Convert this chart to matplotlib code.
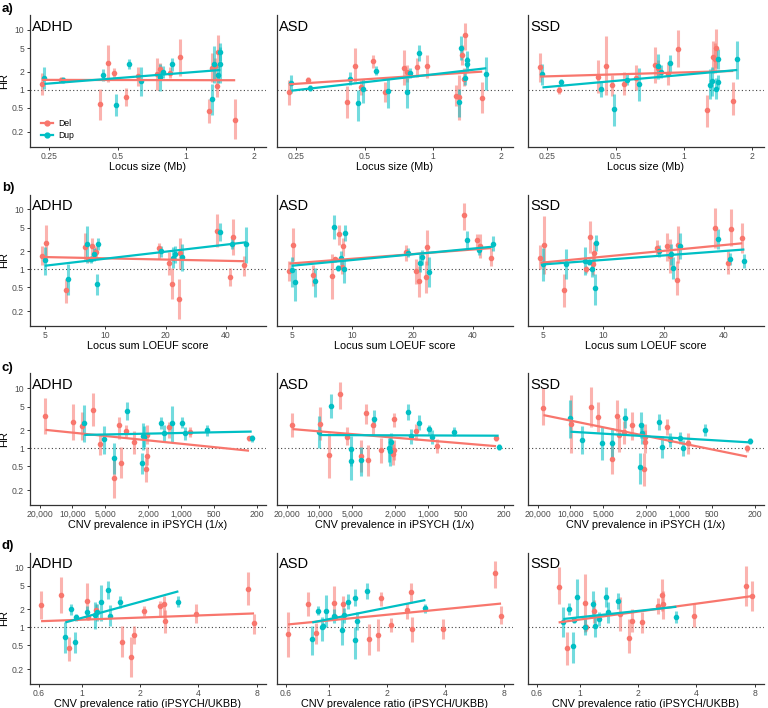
import numpy as np
import matplotlib
matplotlib.use("Agg")
import matplotlib.pyplot as plt
from matplotlib.lines import Line2D

plt.rcParams['font.family'] = ['Liberation Sans', 'DejaVu Sans']

nan = np.nan
disorders = ["ADHD", "ASD", "SSD"]
row_letters = ["a)", "b)", "c)", "d)"]
x_titles = ["Locus size (Mb)", "Locus sum LOEUF score",
            "CNV prevalence in iPSYCH (1/x)", "CNV prevalence ratio (iPSYCH/UKBB)"]
x_ticks = [[0.25, 0.5, 1, 2], [5, 10, 20, 40],
           [20000, 10000, 5000, 2000, 1000, 500, 200], [0.6, 1, 2, 4, 8]]
x_ticklabels = [["0.25", "0.5", "1", "2"], ["5", "10", "20", "40"],
                ["20,000", "10,000", "5,000", "2,000", "1,000", "500", "200"],
                ["0.6", "1", "2", "4", "8"]]
x_limits = [(0.2045, 2.244), (4.2, 63), (24800, 168), (0.536, 8.88)]
y_ticks = [0.2, 0.5, 1, 2, 5, 10]
y_ticklabels = ["0.2", "0.5", "1", "2", "5", "10"]

# ---- Deletions (one entry per CNV locus) ----
del_size = [0.232, 0.282, 0.42, 0.455, 0.48, 0.546, 0.615, 0.749, 0.77, 0.847, 0.94, 1.26, 1.30, 1.35, 1.37, 1.38, 1.65]
del_loeuf = [20.9, 8.2, 21.6, 5.1, 8.9, 41.9, 4.87, 23.7, 18.6, 9.0, 43.3, 6.4, 7.9, 8.6, 49.4, 36.2, 23.3]
del_prev = [2720, 238, 3540, 9850, 830, 2070, 2050, nan, 1283, 3230, 17700, 2100, 8180, 3750, 5520, 6500, 4180]
del_ratio = [2.70, 1.08, 1.615, 1.062, 2.10, 1.86, 3.9, nan, 2.53, 1.184, 0.776, 0.859, 0.615, 2.65, 7.75, 7.24, 1.785]

del_hr_adhd = [1.26, 1.47, 0.58, 2.78, 1.9, 0.75, 1.69, 1.85, 2.24, 1.95, 3.5, 0.45, 2.36, 2.5, 1.17, 4.3, 0.32]
del_lo_adhd = [0.82, 1.33, 0.32, 1.38, 1.56, 0.53, 1.17, 1.0, 1.47, 1.56, 1.71, 0.28, 1.38, 1.46, 0.77, 2.35, 0.15]
del_hi_adhd = [1.95, 1.63, 1.05, 5.6, 2.3, 1.07, 2.45, 3.4, 2.8, 2.45, 7.0, 0.70, 4.1, 3.4, 1.7, 8.3, 0.70]

del_hr_asd = [0.94, 1.47, 0.64, 2.54, 1.1, 3.08, 0.94, 2.36, 1.97, 2.45, 2.5, 0.8, 0.77, 3.83, 1.53, 8.1, 0.745]
del_lo_asd = [0.56, 1.33, 0.34, 1.38, 0.83, 2.3, 0.64, 1.2, 1.38, 1.67, 1.56, 0.53, 0.32, 2.6, 1.14, 4.6, 0.41]
del_hi_asd = [1.47, 1.63, 1.14, 4.95, 1.45, 3.83, 1.38, 4.6, 2.6, 3.4, 3.83, 1.2, 1.8, 5.6, 2.3, 13.0, 1.38]

del_hr_ssd = [2.45, 1.0, 1.67, 2.54, 1.21, 1.26, 1.56, 2.6, 2.3, 1.85, 4.8, 0.46, nan, 3.5, 3.3, 4.95, 0.66]
del_lo_ssd = [1.38, 0.86, 0.88, 0.83, 0.8, 0.83, 1.0, 1.29, 1.7, 1.2, 2.45, 0.24, nan, 1.9, 1.9, 2.3, 0.38]
del_hi_ssd = [4.1, 1.15, 3.16, 7.9, 1.8, 2.0, 2.6, 5.3, 3.1, 2.9, 10.0, 0.83, nan, 6.5, 6.0, 10.5, 1.38]

# ---- Duplications ----
dup_size = [0.238, 0.286, 0.43, 0.49, 0.56, 0.632, 0.77, 0.79, 0.87, 1.30, 1.33, 1.38, 1.41, 1.42, 1.72, 0.47]
dup_loeuf = [21.7, 8.5, 8.8, 9.1, 43.0, 5.0, 24.3, 19.0, 9.2, 6.5, 8.1, 22.3, 50.6, 37.3, nan, 5.2]
dup_prev = [2200, 225, 930, 2300, 980, 5130, 2250, 580, 1530, 4180, 7780, 1450, 1210, 3180, 10000, 5100]
dup_ratio = [1.39, 0.93, 1.06, 0.92, 3.15, nan, 1.17, 0.88, 1.57, 0.82, nan, 1.19, 1.25, 1.37, 0.97, 1.36]

dup_hr_adhd = [1.56, 1.47, 1.78, 0.56, 2.68, 1.43, 1.63, 2.02, 2.68, 0.7, 2.68, 1.78, 2.68, 4.25, nan, nan]
dup_lo_adhd = [1.05, 1.3, 1.4, 0.37, 2.2, 0.8, 0.95, 1.6, 2.1, 0.38, 1.3, 1.3, 1.3, 3.0, nan, nan]
dup_hi_adhd = [2.4, 1.65, 2.25, 0.85, 3.3, 2.4, 2.7, 2.5, 3.4, 1.25, 5.4, 2.5, 5.2, 6.0, nan, nan]

dup_hr_asd = [1.29, 1.07, 1.53, 1.03, 2.1, 0.97, 0.91, 1.9, 4.1, 0.64, 5.1, 1.6, 2.7, 3.15, 1.85, 0.61]
dup_lo_asd = [0.9, 0.95, 1.2, 0.6, 1.75, 0.5, 0.5, 1.6, 3.0, 0.35, 3.2, 1.2, 2.0, 2.3, 1.0, 0.3]
dup_hi_asd = [1.8, 1.2, 2.0, 1.5, 2.5, 1.6, 1.6, 2.3, 5.6, 1.05, 8.0, 2.1, 3.6, 4.4, 3.5, 1.0]

dup_hr_ssd = [1.82, 1.33, 1.03, 0.48, 1.47, 1.24, 2.5, 2.02, 2.78, 1.22, 1.4, 1.04, 1.38, 3.24, 3.24, nan]
dup_lo_ssd = [1.2, 1.2, 0.75, 0.25, 1.2, 0.65, 1.5, 1.6, 2.0, 0.7, 0.8, 0.7, 1.05, 2.2, 1.5, nan]
dup_hi_ssd = [2.7, 1.5, 1.4, 0.85, 1.9, 2.3, 4.0, 2.6, 3.8, 2.2, 2.4, 1.6, 1.8, 4.8, 6.5, nan]

# ---- Fitted meta-regression lines: HR at smallest and largest x (ADHD, ASD, SSD) ----
fit_del_size = [[1.47, 1.45], [1.24, 2.02], [1.67, 2.07]]
fit_dup_size = [[1.26, 2.15], [0.97, 2.3], [1.1, 2.15]]
fit_del_loeuf = [[1.61, 1.37], [1.25, 2.27], [1.29, 2.73]]
fit_dup_loeuf = [[1.15, 2.84], [1.15, 2.4], [1.21, 2.15]]
fit_del_prev = [[0.915, 2.04], [1.09, 2.1], [0.73, 3.6]]
fit_dup_prev = [[1.91, 1.68], [1.63, 1.67], [1.26, 1.9]]
fit_del_ratio = [[1.27, 1.71], [1.12, 2.5], [1.21, 3.33]]
fit_dup_ratio = [[1.21, 4.0], [1.21, 2.86], [1.38, 2.21]]

col_del = "#F8766D"
col_dup = "#00BFC4"

del_x = [del_size, del_loeuf, del_prev, del_ratio]
dup_x = [dup_size, dup_loeuf, dup_prev, dup_ratio]
del_est = [(del_hr_adhd, del_lo_adhd, del_hi_adhd), (del_hr_asd, del_lo_asd, del_hi_asd),
           (del_hr_ssd, del_lo_ssd, del_hi_ssd)]
dup_est = [(dup_hr_adhd, dup_lo_adhd, dup_hi_adhd), (dup_hr_asd, dup_lo_asd, dup_hi_asd),
           (dup_hr_ssd, dup_lo_ssd, dup_hi_ssd)]
del_fits = [fit_del_size, fit_del_loeuf, fit_del_prev, fit_del_ratio]
dup_fits = [fit_dup_size, fit_dup_loeuf, fit_dup_prev, fit_dup_ratio]

W, H = 768, 708
fig = plt.figure(figsize=(W / 100, H / 100), dpi=100)
col_left = [29.5, 276.5, 527.5]
ax_w = 236
row_top = [15, 194.5, 373.5, 552.5]
ax_h = 131.5
ylim = (0.1135, 17.8)


def draw_series(ax, xs, est, fit, color):
    hr, lo, hi = (np.array(a, dtype=float) for a in est)
    x = np.array(xs, dtype=float)
    ok = ~np.isnan(x) & ~np.isnan(hr)
    x, hr, lo, hi = x[ok], hr[ok], lo[ok], hi[ok]
    ax.vlines(x, lo, hi, color=color, alpha=0.55, lw=2.2, zorder=2)
    ax.scatter(x, hr, s=16, color=color, zorder=3, linewidths=0)
    ax.plot([x.min(), x.max()], fit, color=color, lw=1.6, zorder=4,
            solid_capstyle='butt')


for r in range(4):
    for c in range(3):
        l, t = col_left[c], row_top[r]
        ax = fig.add_axes([l / W, 1 - (t + ax_h) / H, ax_w / W, ax_h / H])
        ax.set_xscale('log')
        ax.set_yscale('log')
        ax.set_xlim(*x_limits[r])
        ax.set_ylim(*ylim)
        ax.axhline(1, ls=(0, (1, 2.2)), color='#444444', lw=0.8, zorder=1)
        draw_series(ax, del_x[r], del_est[c], del_fits[r][c], col_del)
        draw_series(ax, dup_x[r], dup_est[c], dup_fits[r][c], col_dup)

        ax.set_xticks(x_ticks[r])
        ax.set_xticklabels(x_ticklabels[r])
        ax.xaxis.set_minor_locator(matplotlib.ticker.NullLocator())
        ax.yaxis.set_minor_locator(matplotlib.ticker.NullLocator())
        ax.set_yticks(y_ticks)
        ax.tick_params(axis='x', labelsize=6.2, colors='#333333', labelcolor='#4D4D4D',
                       length=2.5, width=0.7, pad=1.2)
        if c == 0:
            ax.set_yticklabels(y_ticklabels)
            ax.tick_params(axis='y', labelsize=6.2, colors='#333333', labelcolor='#4D4D4D',
                           length=2.5, width=0.7, pad=1.5)
            ax.set_ylabel("HR", fontsize=8, labelpad=2)
            fig.text(2 / W, 1 - (t - 12) / H, row_letters[r], fontsize=9.5,
                     fontweight='bold', ha='left', va='top')
        else:
            ax.set_yticklabels([])
            ax.tick_params(axis='y', length=0)
        ax.set_xlabel(x_titles[r], fontsize=7.8, labelpad=0.8)
        for s in ['top', 'right']:
            ax.spines[s].set_visible(False)
        for s in ['left', 'bottom']:
            ax.spines[s].set_linewidth(0.9)
            ax.spines[s].set_color('#333333')
        ax.text(0.012, 0.965, disorders[c], transform=ax.transAxes, fontsize=10.5,
                ha='left', va='top')

        if r == 0 and c == 0:
            handles = [Line2D([], [], color=col_del, marker='o', markersize=3.5, lw=1.6),
                       Line2D([], [], color=col_dup, marker='o', markersize=3.5, lw=1.6)]
            ax.legend(handles, ["Del", "Dup"], loc='lower left', bbox_to_anchor=(0.025, 0.0),
                      frameon=False, fontsize=6.2, handlelength=1.3, handletextpad=0.6,
                      labelspacing=0.35, borderpad=0.2)

fig.savefig("out.png", dpi=100)
